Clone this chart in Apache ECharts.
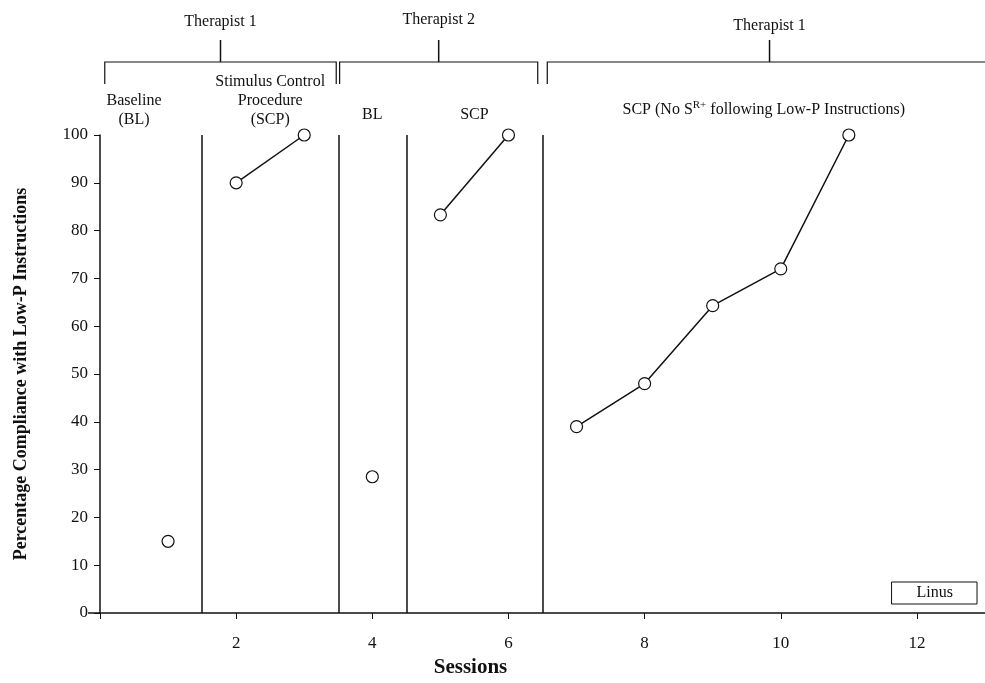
<!DOCTYPE html>
<html>
<head>
<meta charset="utf-8">
<script src="https://cdn.jsdelivr.net/npm/echarts@6/dist/echarts.min.js"></script>
<style>
  html, body { margin: 0; padding: 0; background: #fff; }
  #chart { width: 985px; height: 683px; }
</style>
</head>
<body>
<div id="chart"></div>
<script>
// data
var sessions = [1, 2, 3, 4, 5, 6, 7, 8, 9, 10, 11];
var compliance = [15, 90, 100, 28.5, 83.3, 100, 39, 48, 64.3, 72, 100];
var phaseOf = [0, 1, 1, 2, 3, 3, 4, 4, 4, 4, 4];
var phaseChanges = [1.5, 3.5, 4.5, 6.5];
var phaseLabels = ['Baseline\n(BL)', 'Stimulus Control\nProcedure\n(SCP)', 'BL', 'SCP',
  'SCP (No S{sup|R+} following Low-P Instructions)'];
var phaseCenters = [0.5, 2.5, 4, 5.5, 9.75];
var therapists = ['Therapist 1', 'Therapist 2', 'Therapist 1'];
var therapistFrom = [0.07, 3.52, 6.57];
var therapistTo = [3.47, 6.43, 13.1];
var xTicks = [0, 2, 4, 6, 8, 10, 12];
var xLabels = [2, 4, 6, 8, 10, 12];
var yTicks = [0, 10, 20, 30, 40, 50, 60, 70, 80, 90, 100];

var serif = 'Liberation Serif';
var phaseLabelBottom = [129, 129, 124, 124, 119];
var therapistLabelY = [30, 28, 34];

var myChart = echarts.init(document.getElementById('chart'));

// one line series per phase so the line breaks at each phase change
var series = [];
for (var p = 0; p < phaseLabels.length; p++) {
  var pts = [];
  for (var i = 0; i < sessions.length; i++) {
    if (phaseOf[i] === p) pts.push([sessions[i], compliance[i]]);
  }
  series.push({
    name: 'Linus',
    type: 'line',
    data: pts,
    symbol: 'circle',
    symbolSize: 12,
    itemStyle: { color: '#fff', borderColor: '#111', borderWidth: 1.2 },
    lineStyle: { color: '#111', width: 1.5 },
    z: 5
  });
}
// phase change lines
series[0].markLine = {
  silent: true,
  symbol: 'none',
  label: { show: false },
  lineStyle: { color: '#111', type: 'solid', width: 1.5 },
  data: phaseChanges.map(function (v) { return { xAxis: v }; })
};

var option = {
  animation: false,
  backgroundColor: '#fff',
  textStyle: { fontFamily: serif },
  grid: { left: 100, right: 0, top: 135, bottom: 64 },
  legend: {
    data: [{ name: 'Linus', icon: 'none' }],
    right: 8, top: 582,
    itemWidth: 0, itemHeight: 0,
    borderColor: '#111', borderWidth: 1, borderRadius: 0,
    padding: [3, 24, 3, 20],
    textStyle: { fontFamily: serif, fontSize: 16, color: '#111' }
  },
  xAxis: {
    type: 'value',
    min: 0, max: 13,
    name: 'Sessions',
    nameLocation: 'middle',
    nameGap: 44,
    nameTextStyle: { fontFamily: serif, fontSize: 21, fontWeight: 'bold', color: '#111', padding: [0, 144, 0, 0] },
    axisLine: { lineStyle: { color: '#111', width: 1.5 } },
    axisTick: { show: true, length: 6, lineStyle: { color: '#111' }, customValues: xTicks },
    axisLabel: { fontFamily: serif, fontSize: 17, color: '#111', margin: 22, customValues: xLabels },
    splitLine: { show: false }
  },
  yAxis: {
    type: 'value',
    min: yTicks[0], max: yTicks[yTicks.length - 1], interval: 10,
    name: 'Percentage Compliance with Low-P Instructions',
    nameLocation: 'middle',
    nameGap: 70,
    nameTextStyle: { fontFamily: serif, fontSize: 18, fontWeight: 'bold', color: '#111' },
    axisLine: { show: true, lineStyle: { color: '#111', width: 1.5 } },
    axisTick: { show: true, length: 6, lineStyle: { color: '#111' } },
    axisLabel: { fontFamily: serif, fontSize: 17, color: '#111', margin: 12 },
    splitLine: { show: false }
  },
  series: series
};
myChart.setOption(option);

// phase labels and therapist brackets placed through the x scale
function px(v) { return myChart.convertToPixel({ xAxisIndex: 0 }, v); }
function py(v) { return myChart.convertToPixel({ yAxisIndex: 0 }, v); }
var graphic = [];
for (var k = 0; k < phaseLabels.length; k++) {
  graphic.push({
    type: 'text',
    x: px(phaseCenters[k]), y: phaseLabelBottom[k],
    style: {
      text: phaseLabels[k],
      fontFamily: serif, fontSize: 16, lineHeight: 19,
      fill: '#111', align: 'center', verticalAlign: 'bottom',
      rich: {
        sup: { fontFamily: serif, fontSize: 11, fill: '#111', padding: [0, 0, 8, 0] }
      }
    }
  });
}
var brY = 62, brEnd = 84, brTop = 40;
for (var t = 0; t < therapists.length; t++) {
  var a = px(therapistFrom[t]), b = px(therapistTo[t]), c = (a + b) / 2;
  graphic.push({
    type: 'polyline',
    shape: { points: [[a, brEnd], [a, brY], [b, brY], [b, brEnd]] },
    style: { stroke: '#111', lineWidth: 1.2, fill: null }
  });
  graphic.push({
    type: 'line',
    shape: { x1: c, y1: brY, x2: c, y2: brTop },
    style: { stroke: '#111', lineWidth: 1.5 }
  });
  graphic.push({
    type: 'text',
    x: c, y: therapistLabelY[t],
    style: {
      text: therapists[t], fontFamily: serif, fontSize: 16,
      fill: '#111', align: 'center', verticalAlign: 'bottom'
    }
  });
}
// short overhang of the x axis to the left of the y axis
graphic.push({
  type: 'line',
  shape: { x1: px(0) - 12, y1: py(0), x2: px(0), y2: py(0) },
  style: { stroke: '#111', lineWidth: 1.5 }
});
myChart.setOption({ graphic: graphic });
</script>
</body>
</html>
